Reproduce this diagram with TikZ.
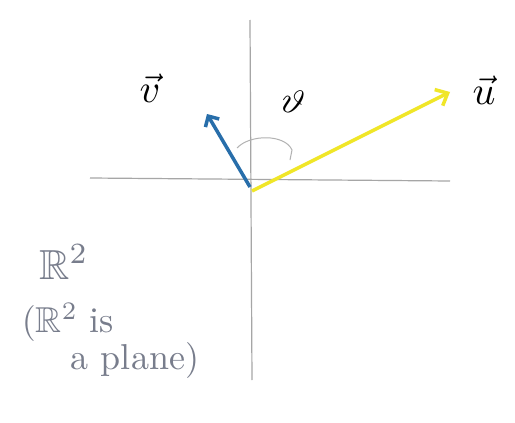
\documentclass[tikz,border=0pt]{standalone}
\usepackage{amssymb}
\usetikzlibrary{arrows.meta}
\begin{document}
\begin{tikzpicture}[x=1pt,y=-1pt,
  axis/.style={draw=gray!70, line width=1.2pt},
  vecblue/.style={draw={rgb,255:red,40;green,110;blue,170}, line width=3.5pt, -{Straight Barb[length=8pt,width=16pt]}},
  vecyellow/.style={draw={rgb,255:red,240;green,230;blue,40}, line width=3.5pt, -{Straight Barb[length=10pt,width=18pt]}},
  pencil/.style={text={rgb,255:red,120;green,125;blue,140}}]
\useasboundingbox (0,0) rectangle (515,423);
\fill[white] (0,0) rectangle (515,423);
\coordinate (top) at (250,20);
\coordinate (bot) at (252,380);
\coordinate (left) at (90,178);
\coordinate (right) at (450,181);
\coordinate (O) at (250,187);
\coordinate (vtip) at (207,114);
\coordinate (utip) at (450,92);
\draw[axis] (top) -- (bot);
\draw[axis] (left) -- (right);
\draw[vecblue] (O) -- (vtip);
\draw[vecyellow] (252,191) -- (utip);
\draw[draw=gray!60, line width=1pt] (237,148) .. controls (250,134) and (285,134) .. (292,150) -- (290,160);
\node (vl) at (150,88) {\scalebox{4}{$\vec{v}$}};
\node (ul) at (484,90) {\scalebox{4}{$\vec{u}$}};
\node[rotate=-20] (th) at (293,101) {\scalebox{3.6}{$\vartheta$}};
\node[pencil] (r2) at (64,262) {\scalebox{4.2}{$\mathbb{R}^2$}};
\node[pencil] (t1) at (68,322) {\scalebox{3.6}{$(\mathbb{R}^2$ is}};
\node[pencil] (t2) at (135,360) {\scalebox{3.6}{a plane)}};
\end{tikzpicture}
\end{document}
